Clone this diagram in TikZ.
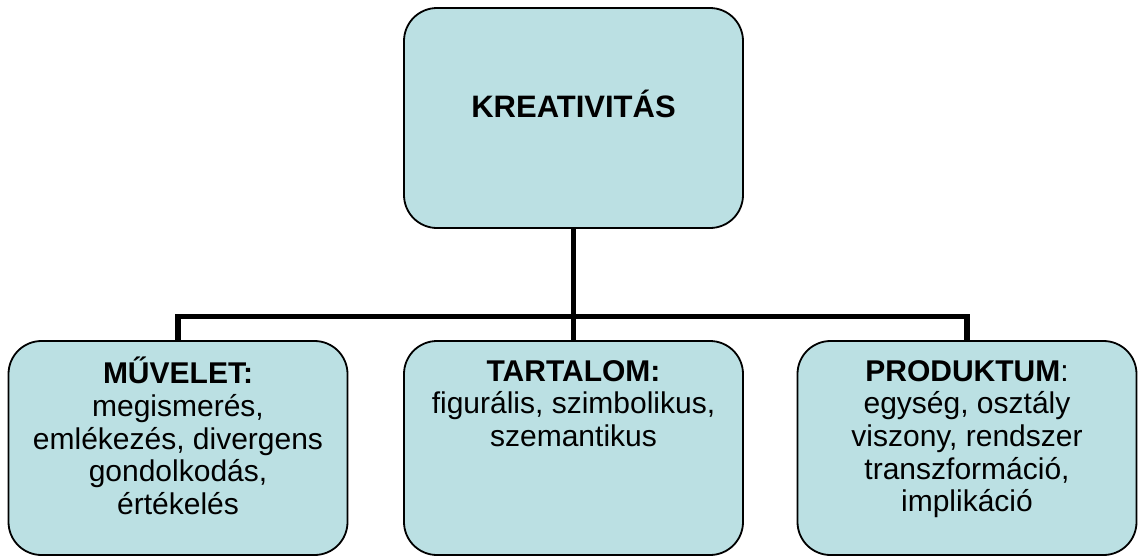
\documentclass[tikz,border=0pt]{standalone}
\usepackage{fontspec}
\setmainfont{Liberation Sans}
\definecolor{boxfill}{RGB}{187,224,227}
\begin{document}
\begin{tikzpicture}[x=1pt,y=-1pt,
  panel/.style={draw=black,line width=1.8pt,fill=boxfill,rounded corners=33pt,
    inner sep=0pt,minimum width=339pt,minimum height=214pt},
  conn/.style={line width=5.5pt,draw=black},
  body/.style={align=center,inner sep=0pt,anchor=north,
    font=\fontsize{30}{32.6}\selectfont},
  title/.style={inner sep=0pt,anchor=base,font=\fontsize{31}{36}\selectfont\bfseries}]
\useasboundingbox (0,0) rectangle (1138,557);

% connectors from the top concept down to the three components
\coordinate (bus) at (573.5,316.5);
\draw[conn] (573.5,228) -- (573.5,341);
\draw[conn] (178,341) |- (bus) -| (967,341);

% boxes
\node[panel,minimum height=220pt] (top) at (573.5,118) {};
\node[panel] (L) at (178,448) {};
\node[panel] (M) at (573.5,448) {};
\node[panel] (R) at (967,448) {};

% texts
\node[title] (toptext) at (573.5,117) {KREATIVITÁS};
\node[body] (Ltext) at (178,357) {\rule{0pt}{24pt}\textbf{MŰVELET:}\\megismerés,\\emlékezés, divergens\\gondolkodás,\\értékelés};
\node[body] (Mtext) at (573.5,357) {\rule{0pt}{24pt}\textbf{TARTALOM:}\\figurális, szimbolikus,\\szemantikus};
\node[body] (Rtext) at (967,357) {\rule{0pt}{24pt}\textbf{PRODUKTUM}:\\egység, osztály\\viszony, rendszer\\transzformáció,\\implikáció};
\end{tikzpicture}
\end{document}
